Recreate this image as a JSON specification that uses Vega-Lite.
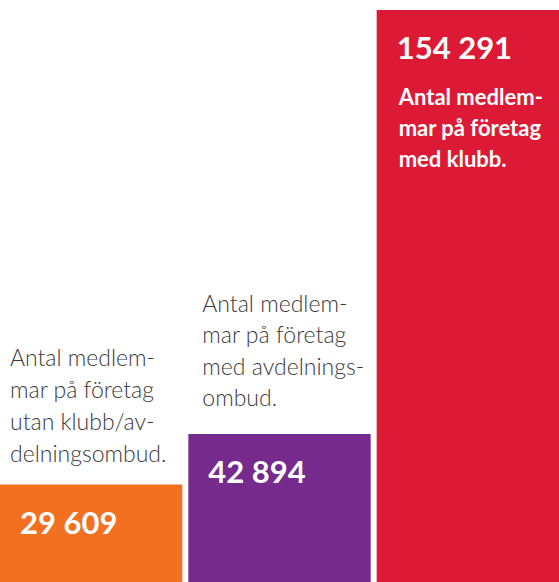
{
  "$schema": "https://vega.github.io/schema/vega-lite/v6.json",
  "width": 559,
  "height": 582,
  "autosize": {"type": "fit", "contains": "padding"},
  "padding": 0,
  "config": {
    "view": {"stroke": null},
    "font": "Lato",
    "locale": {"number": {"decimal": ",", "thousands": " ", "grouping": [3], "currency": ["", " kr"]}}
  },
  "data": {
    "values": [
      {"kategori": "utan klubb/avdelningsombud", "medlemmar": 29609, "beskrivning": ["Antal medlem-", "mar på företag", "utan klubb/av-", "delningsombud."]},
      {"kategori": "med avdelningsombud", "medlemmar": 42894, "beskrivning": ["Antal medlem-", "mar på företag", "med avdelnings-", "ombud."]},
      {"kategori": "med klubb", "medlemmar": 154291, "beskrivning": ["Antal medlem-", "mar på företag", "med klubb."]}
    ]
  },
  "encoding": {
    "x": {
      "field": "kategori",
      "type": "nominal",
      "sort": null,
      "axis": null,
      "bandPosition": 0,
      "scale": {"paddingInner": 0.032, "paddingOuter": 0}
    },
    "y": {
      "field": "medlemmar",
      "type": "quantitative",
      "axis": null,
      "scale": {"domain": [4000, 156900], "zero": false, "nice": false}
    }
  },
  "layer": [
    {
      "mark": {"type": "bar"},
      "encoding": {
        "x": {"field": "kategori", "type": "nominal", "sort": null, "axis": null, "scale": {"paddingInner": 0.032, "paddingOuter": 0}},
        "y2": {"datum": 4000},
        "color": {
          "field": "kategori",
          "type": "nominal",
          "sort": null,
          "legend": null,
          "scale": {"domain": ["utan klubb/avdelningsombud", "med avdelningsombud", "med klubb"], "range": ["#F37021", "#762A8C", "#DC1A35"]}
        }
      }
    },
    {
      "mark": {"type": "text", "align": "left", "baseline": "alphabetic", "dx": 20, "dy": 49, "fontSize": 31, "fontWeight": "bold", "color": "#ffffff"},
      "encoding": {
        "text": {"field": "medlemmar", "type": "quantitative", "format": ",d"}
      }
    },
    {
      "transform": [{"filter": "datum.kategori === 'utan klubb/avdelningsombud'"}],
      "mark": {"type": "text", "align": "left", "baseline": "alphabetic", "dx": 10, "dy": -119, "fontSize": 23, "fontWeight": 300, "lineHeight": 32, "color": "#3a3a3a"},
      "encoding": {"text": {"field": "beskrivning"}}
    },
    {
      "transform": [{"filter": "datum.kategori === 'med avdelningsombud'"}],
      "mark": {"type": "text", "align": "left", "baseline": "alphabetic", "dx": 14, "dy": -122, "fontSize": 23, "fontWeight": 300, "lineHeight": 31.5, "color": "#3a3a3a"},
      "encoding": {"text": {"field": "beskrivning"}}
    },
    {
      "transform": [{"filter": "datum.kategori === 'med klubb'"}],
      "mark": {"type": "text", "align": "left", "baseline": "alphabetic", "dx": 22, "dy": 95, "fontSize": 22, "fontWeight": "bold", "lineHeight": 31, "color": "#ffffff"},
      "encoding": {"text": {"field": "beskrivning"}}
    }
  ]
}
